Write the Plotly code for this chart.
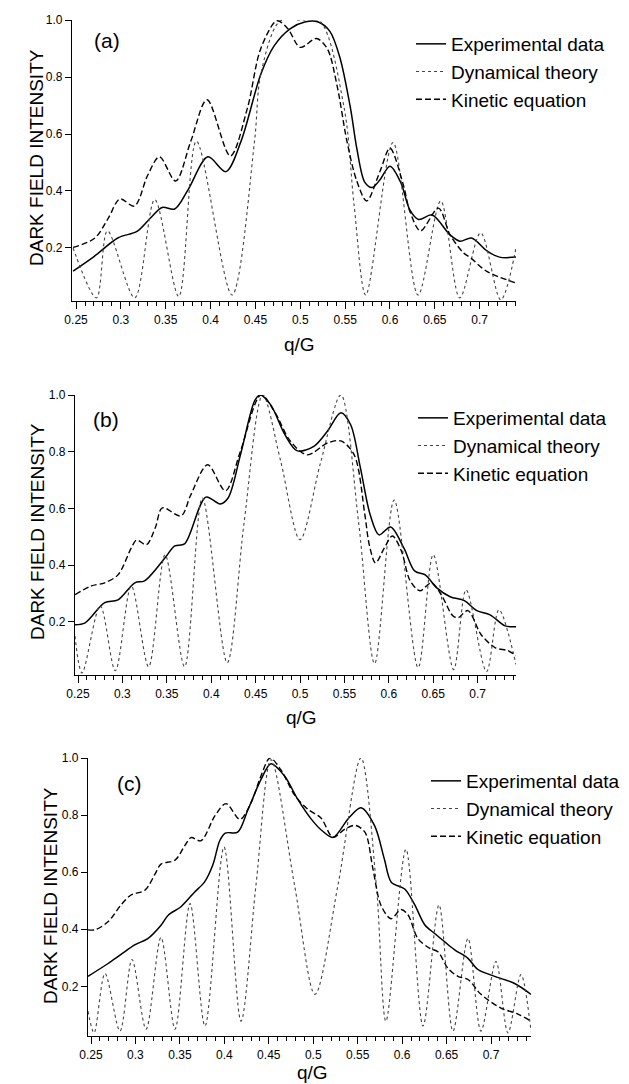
import plotly.graph_objects as go

# ---------------- data ----------------
# Panel (a)
a_exp_x = [0.2467, 0.270, 0.297, 0.318, 0.333, 0.346, 0.360, 0.375, 0.397, 0.417, 0.434, 0.456, 0.471,
           0.489, 0.505, 0.520, 0.533, 0.544, 0.556, 0.563, 0.572, 0.580, 0.589, 0.600, 0.612, 0.622,
           0.632, 0.647, 0.667, 0.678, 0.691, 0.708, 0.722, 0.7405]
a_exp_y = [0.119, 0.170, 0.236, 0.258, 0.305, 0.342, 0.337, 0.405, 0.520, 0.468, 0.575, 0.810, 0.910,
           0.970, 0.993, 0.993, 0.960, 0.870, 0.690, 0.550, 0.430, 0.412, 0.440, 0.487, 0.430, 0.335,
           0.300, 0.316, 0.246, 0.224, 0.235, 0.190, 0.168, 0.168]
a_dyn_x = [0.2467, 0.2727, 0.285, 0.3154, 0.3377, 0.3645, 0.3842, 0.4239, 0.449, 0.456, 0.477, 0.500,
           0.522, 0.549, 0.560, 0.573, 0.6034, 0.6313, 0.6566, 0.6778, 0.7011, 0.7235, 0.7405]
a_dyn_y = [0.200, 0.025, 0.260, 0.025, 0.370, 0.030, 0.575, 0.035, 0.575, 0.810, 0.995, 1.000,
           0.995, 0.690, 0.350, 0.035, 0.570, 0.035, 0.365, 0.025, 0.253, 0.018, 0.200]
a_kin_x = [0.2467, 0.271, 0.286, 0.299, 0.315, 0.330, 0.343, 0.361, 0.378, 0.396, 0.422, 0.441, 0.456,
           0.474, 0.486, 0.500, 0.518, 0.530, 0.541, 0.552, 0.563, 0.574, 0.589, 0.600, 0.615, 0.622,
           0.634, 0.654, 0.667, 0.682, 0.690, 0.708, 0.7405]
a_kin_y = [0.202, 0.235, 0.305, 0.372, 0.347, 0.456, 0.520, 0.435, 0.575, 0.720, 0.523, 0.690, 0.900,
           0.997, 0.970, 0.904, 0.935, 0.900, 0.770, 0.575, 0.435, 0.365, 0.470, 0.550, 0.420, 0.330,
           0.260, 0.340, 0.246, 0.183, 0.165, 0.118, 0.077]

# Panel (b)
b_exp_x = [0.2466, 0.258, 0.280, 0.295, 0.314, 0.325, 0.348, 0.359, 0.370, 0.394, 0.410, 0.419, 0.433,
           0.449, 0.455, 0.467, 0.483, 0.497, 0.516, 0.531, 0.546, 0.557, 0.568, 0.579, 0.589, 0.602,
           0.617, 0.629, 0.641, 0.654, 0.669, 0.685, 0.699, 0.714, 0.731, 0.7432]
b_exp_y = [0.190, 0.197, 0.268, 0.278, 0.338, 0.345, 0.426, 0.468, 0.475, 0.640, 0.616, 0.637, 0.790,
           0.980, 1.000, 0.965, 0.860, 0.803, 0.820, 0.873, 0.937, 0.895, 0.743, 0.578, 0.507, 0.535,
           0.460, 0.380, 0.366, 0.320, 0.289, 0.275, 0.240, 0.225, 0.186, 0.183]
b_dyn_x = [0.2466, 0.2545, 0.275, 0.292, 0.310, 0.3295, 0.348, 0.370, 0.390, 0.418, 0.437, 0.458,
           0.478, 0.500, 0.523, 0.546, 0.566, 0.584, 0.606, 0.633, 0.650, 0.673, 0.687, 0.710, 0.724, 0.7432]
b_dyn_y = [0.150, 0.020, 0.257, 0.028, 0.327, 0.042, 0.437, 0.042, 0.637, 0.056, 0.550, 1.000,
           0.770, 0.490, 0.760, 1.000, 0.550, 0.053, 0.630, 0.039, 0.437, 0.032, 0.313, 0.025, 0.243, 0.050]
b_kin_x = [0.2466, 0.265, 0.280, 0.295, 0.310, 0.316, 0.327, 0.337, 0.345, 0.366, 0.377, 0.396, 0.416,
           0.433, 0.456, 0.471, 0.489, 0.508, 0.531, 0.546, 0.561, 0.573, 0.578, 0.585, 0.595, 0.604,
           0.614, 0.624, 0.635, 0.648, 0.659, 0.672, 0.678, 0.689, 0.704, 0.720, 0.734, 0.7432]
b_kin_y = [0.296, 0.327, 0.338, 0.366, 0.461, 0.489, 0.472, 0.532, 0.602, 0.574, 0.648, 0.754, 0.662,
           0.803, 1.000, 0.943, 0.838, 0.789, 0.831, 0.838, 0.789, 0.578, 0.472, 0.408, 0.461, 0.503,
           0.451, 0.345, 0.310, 0.338, 0.296, 0.222, 0.215, 0.240, 0.155, 0.109, 0.099, 0.081]

# Panel (c)
c_exp_x = [0.2466, 0.2692, 0.2834, 0.2996, 0.3138, 0.329, 0.3371, 0.3512, 0.3664, 0.3776, 0.3870, 0.3948,
           0.4010, 0.415, 0.4262, 0.4413, 0.4525, 0.4677, 0.4828, 0.498, 0.510, 0.5223, 0.540, 0.5537, 0.569,
           0.580, 0.5878, 0.6029, 0.6141, 0.6254, 0.6366, 0.6479, 0.6591, 0.6741, 0.6853, 0.7041,
           0.7266, 0.745]
c_exp_y = [0.235, 0.280, 0.311, 0.346, 0.367, 0.415, 0.450, 0.479, 0.530, 0.565, 0.625, 0.710,
           0.737, 0.740, 0.816, 0.925, 0.980, 0.937, 0.854, 0.785, 0.745, 0.722, 0.790, 0.826, 0.763,
           0.646, 0.565, 0.541, 0.486, 0.416, 0.385, 0.356, 0.328, 0.298, 0.259, 0.235,
           0.210, 0.172]
c_dyn_x = [0.2466, 0.2534, 0.2657, 0.2826, 0.2961, 0.3119, 0.3287, 0.3445, 0.3614, 0.3782, 0.3996,
           0.4187, 0.4356, 0.4525, 0.479, 0.502, 0.5278, 0.5537, 0.571, 0.5818, 0.6043, 0.6235, 0.6415,
           0.6572, 0.6741, 0.6887, 0.7056, 0.7191, 0.7337, 0.745]
c_dyn_y = [0.113, 0.037, 0.245, 0.043, 0.294, 0.050, 0.371, 0.050, 0.490, 0.061, 0.688,
           0.078, 0.555, 0.994, 0.554, 0.172, 0.554, 1.000, 0.554, 0.078, 0.680, 0.061, 0.485,
           0.043, 0.368, 0.043, 0.287, 0.037, 0.241, 0.043]
c_kin_x = [0.2466, 0.2545, 0.2691, 0.2837, 0.295, 0.3107, 0.322, 0.3287, 0.3445, 0.3557, 0.3625, 0.3737,
           0.3895, 0.4019, 0.4176, 0.430, 0.4412, 0.4514, 0.4637, 0.4795, 0.4941, 0.5087, 0.5222, 0.5357,
           0.547, 0.5582, 0.5672, 0.5762, 0.5875, 0.5987, 0.6066, 0.6178, 0.6313, 0.6403, 0.6516, 0.6628,
           0.6741, 0.6887, 0.7112, 0.7303, 0.745]
c_kin_y = [0.398, 0.398, 0.426, 0.485, 0.520, 0.537, 0.593, 0.628, 0.642, 0.694, 0.721, 0.710,
           0.798, 0.840, 0.785, 0.843, 0.937, 1.000, 0.958, 0.868, 0.820, 0.790, 0.722, 0.751,
           0.764, 0.740, 0.611, 0.484, 0.437, 0.469, 0.451, 0.367, 0.333, 0.321, 0.263, 0.235,
           0.224, 0.172, 0.124, 0.103, 0.078]

series_names = ["Experimental data", "Dynamical theory", "Kinetic equation"]
panel_labels = ["(a)", "(b)", "(c)"]
x_title = "q/G"
y_title = "DARK FIELD INTENSITY"
y_tick_vals = [0.2, 0.4, 0.6, 0.8, 1.0]
y_tick_text = ["0.2", "0.4", "0.6", "0.8", "1.0"]

# ---------------- layout helpers ----------------
W, H = 629, 1084
FONT = "Liberation Sans, Arial, sans-serif"


def fx(p):
    return p / W


def fy(p):
    return 1 - p / H


panels = [
    dict(data=[(a_exp_x, a_exp_y), (a_dyn_x, a_dyn_y), (a_kin_x, a_kin_y)],
         xpix=(64, 508), ypix=(12, 293), xr=(0.2455, 0.7405), yr=(0.014, 1.0),
         label=(99, 32), ytitle=(28, 150), xtitle=(291, 336), legend=(403, 17)),
    dict(data=[(b_exp_x, b_exp_y), (b_dyn_x, b_dyn_y), (b_kin_x, b_kin_y)],
         xpix=(67, 508), ypix=(387, 667), xr=(0.2466, 0.7432), yr=(0.013, 1.0),
         label=(98, 411), ytitle=(29, 524), xtitle=(293, 709), legend=(405, 391)),
    dict(data=[(c_exp_x, c_exp_y), (c_dyn_x, c_dyn_y), (c_kin_x, c_kin_y)],
         xpix=(80, 523), ypix=(750, 1028), xr=(0.2466, 0.745), yr=(0.026, 1.0),
         label=(121, 775), ytitle=(42, 888), xtitle=(304, 1064), legend=(418, 754)),
]

styles = [
    dict(color="black", width=1.5, dash="solid"),
    dict(color="#444444", width=1.1, dash="dot"),
    dict(color="black", width=1.4, dash="6px,3px"),
]

fig = go.Figure()
annotations = []
layout = {}

for i, p in enumerate(panels):
    n = "" if i == 0 else str(i + 1)
    xa, ya = "x" + n, "y" + n
    leg = "legend" + n
    for j, (xs, ys) in enumerate(p["data"]):
        fig.add_trace(go.Scatter(
            x=xs, y=ys, mode="lines", name=series_names[j],
            line=dict(shape="spline", smoothing=0.9, **styles[j]),
            xaxis=xa, yaxis=ya, legend=leg, showlegend=True,
        ))
    layout["xaxis" + n] = dict(
        domain=[fx(p["xpix"][0]), fx(p["xpix"][1])], range=list(p["xr"]), anchor=ya,
        tickmode="linear", tick0=0.25, dtick=0.05, ticks="outside", ticklen=7, tickwidth=1,
        tickcolor="black", showline=True, linecolor="black", linewidth=1.2, showgrid=False,
        zeroline=False, tickfont=dict(family=FONT, size=12, color="black"),
        minor=dict(tickmode="linear", tick0=0.25, dtick=0.01, ticks="outside", ticklen=4,
                   tickcolor="black", showgrid=False),
    )
    layout["yaxis" + n] = dict(
        domain=[fy(p["ypix"][1]), fy(p["ypix"][0])], range=list(p["yr"]), anchor=xa,
        tickmode="array", tickvals=y_tick_vals, ticktext=y_tick_text, ticks="outside",
        ticklen=6, tickwidth=1, tickcolor="black", showline=True, linecolor="black",
        linewidth=1.2, showgrid=False, zeroline=False,
        tickfont=dict(family=FONT, size=12, color="black"),
    )
    layout[leg] = dict(
        x=fx(p["legend"][0]), y=fy(p["legend"][1]), xanchor="left", yanchor="top",
        bgcolor="rgba(0,0,0,0)", borderwidth=0, traceorder="normal",
        font=dict(family=FONT, size=19, color="black"),
    )
    annotations.append(dict(
        text=panel_labels[i], x=fx(p["label"][0]), y=fy(p["label"][1]), xref="paper",
        yref="paper", xanchor="center", yanchor="middle", showarrow=False,
        font=dict(family=FONT, size=21, color="black")))
    annotations.append(dict(
        text=y_title, x=fx(p["ytitle"][0]), y=fy(p["ytitle"][1]), xref="paper", yref="paper",
        xanchor="center", yanchor="middle", showarrow=False, textangle=-90,
        font=dict(family=FONT, size=19, color="black")))
    annotations.append(dict(
        text=x_title, x=fx(p["xtitle"][0]), y=fy(p["xtitle"][1]), xref="paper", yref="paper",
        xanchor="center", yanchor="middle", showarrow=False, borderpad=0,
        font=dict(family=FONT, size=19, color="black")))

fig.update_layout(
    width=W, height=H, margin=dict(l=0, r=0, t=0, b=0, pad=0, autoexpand=False),
    paper_bgcolor="white", plot_bgcolor="white",
    font=dict(family=FONT, color="black"),
    annotations=annotations, **layout,
)

fig.write_html("out.html")
